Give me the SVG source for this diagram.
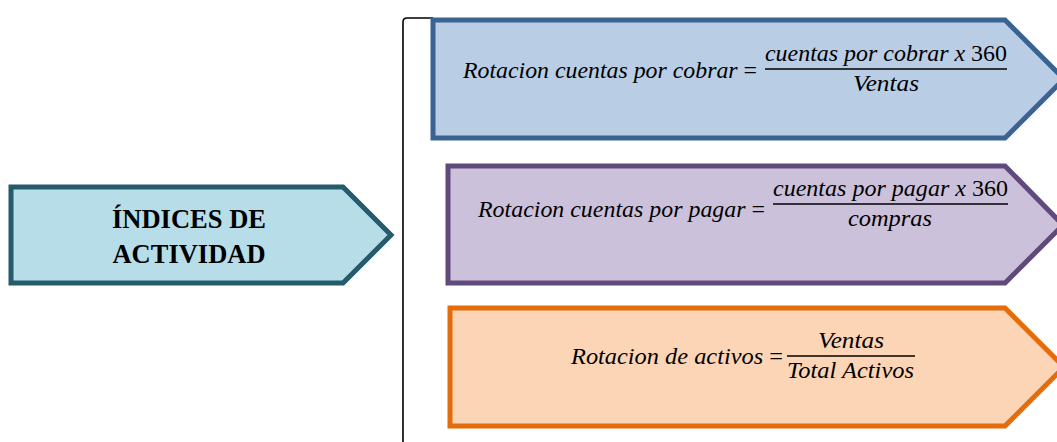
<svg xmlns="http://www.w3.org/2000/svg" width="1057" height="442" viewBox="0 0 1057 442">
  <style>
    .f { font-family: "Liberation Serif", "DejaVu Serif", serif; font-style: italic; font-size: 23.5px; fill: #000; }
    .up { font-style: normal; }
    .hd { font-family: "Liberation Serif", "DejaVu Serif", serif; font-weight: bold; font-size: 27px; fill: #000; text-anchor: middle; }
    .bar { stroke: #000; stroke-width: 1.6; }
    .shape { stroke-width: 5; stroke-linejoin: miter; }
  </style>
  <rect width="1057" height="442" fill="#ffffff"/>

  <g id="connectors">
    <path d="M433,18 L407,18 Q403,18 403,22 L403,442" fill="none" stroke="#000" stroke-width="1.6"/>
  </g>

  <g id="indices">
    <path class="shape" d="M11,187 L343,187 L391,235 L343,283 L11,283 Z" fill="#b7dee8" stroke="#255b6a"/>
    <text class="hd" x="189" y="228" textLength="154" lengthAdjust="spacingAndGlyphs">ÍNDICES DE</text>
    <text class="hd" x="189" y="263" textLength="153" lengthAdjust="spacingAndGlyphs">ACTIVIDAD</text>
  </g>

  <g id="cobrar">
    <path class="shape" d="M433,20 L1005,20 L1064,79 L1005,138 L433,138 Z" fill="#b9cde5" stroke="#3a6394"/>
    <text class="f" x="463" y="78" textLength="294" lengthAdjust="spacingAndGlyphs">Rotacion cuentas por cobrar <tspan class="up">=</tspan></text>
    <text class="f" x="765" y="61" textLength="242" lengthAdjust="spacingAndGlyphs">cuentas por cobrar x <tspan class="up">360</tspan></text>
    <line class="bar" x1="765" y1="69" x2="1007" y2="69"/>
    <text class="f" x="853" y="91" textLength="66" lengthAdjust="spacingAndGlyphs">Ventas</text>
  </g>

  <g id="pagar">
    <path class="shape" d="M448,166 L1005,166 L1063,225 L1005,283 L448,283 Z" fill="#ccc1da" stroke="#604a7b"/>
    <text class="f" x="478" y="217" textLength="287" lengthAdjust="spacingAndGlyphs">Rotacion cuentas por pagar <tspan class="up">=</tspan></text>
    <text class="f" x="773" y="196" textLength="235" lengthAdjust="spacingAndGlyphs">cuentas por pagar x <tspan class="up">360</tspan></text>
    <line class="bar" x1="773" y1="204" x2="1008" y2="204"/>
    <text class="f" x="848" y="226" textLength="84" lengthAdjust="spacingAndGlyphs">compras</text>
  </g>

  <g id="activos">
    <path class="shape" d="M450,308 L1005,308 L1064,367 L1005,426 L450,426 Z" fill="#fbd5b5" stroke="#e46c0a"/>
    <text class="f" x="571" y="364" textLength="212" lengthAdjust="spacingAndGlyphs">Rotacion de activos <tspan class="up">=</tspan></text>
    <text class="f" x="818" y="348" textLength="66" lengthAdjust="spacingAndGlyphs">Ventas</text>
    <line class="bar" x1="787" y1="356" x2="915" y2="356"/>
    <text class="f" x="787" y="378" textLength="127" lengthAdjust="spacingAndGlyphs">Total Activos</text>
  </g>
</svg>
